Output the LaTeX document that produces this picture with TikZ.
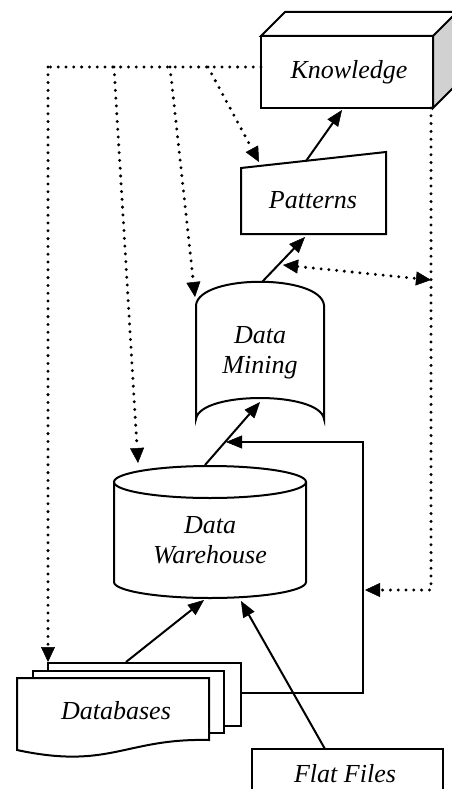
\documentclass[tikz,border=0pt]{standalone}
\usepackage{fontspec}
\setmainfont{Liberation Serif}
\usetikzlibrary{arrows.meta}

\tikzset{
  shapeline/.style={line width=2pt, line join=miter},
  flow/.style={line width=2pt, -{Triangle[length=16pt,width=13pt,line width=0.5pt]}},
  dots/.style={line width=3.3pt, line cap=round, dash pattern=on 0pt off 7.8pt},
  dotflow/.style={dots, -{Triangle[length=15pt,width=14pt,line width=0.5pt]}},
  dotboth/.style={dots, {Triangle[length=15pt,width=14pt,line width=0.5pt]}-{Triangle[length=15pt,width=14pt,line width=0.5pt]}},
  label/.style={font=\fontsize{26}{30}\selectfont\itshape, anchor=base, inner sep=0pt, align=center},
}

\begin{document}
\begin{tikzpicture}[x=1pt, y=-1pt]
\useasboundingbox (0,0) rectangle (452,789);
\fill[white] (0,0) rectangle (452,789);
\clip (0,0) rectangle (452,789);

% ---- Knowledge: 3-D box ----
\draw[shapeline, fill=white] (261,36) -- (285,12) -- (481,12) -- (457,36) -- cycle;
\draw[shapeline, fill=black!18] (433,36) -- (457,12) -- (457,84) -- (433,108) -- cycle;
\draw[shapeline, fill=white] (261,36) rectangle (433,108);
\node[label] (knowledge) at (349,79) {Knowledge};

% ---- Patterns: manual input shape ----
\draw[shapeline, fill=white] (241,168) -- (386,152) -- (386,234) -- (241,234) -- cycle;
\node[label] (patterns) at (313,208) {Patterns};

% ---- Data Mining: punched tape ----
\draw[shapeline, fill=white] (196,305) .. controls (200,274) and (320,274) .. (324,305)
  -- (324,419) .. controls (320,391) and (200,391) .. (196,419) -- cycle;
\node[label] (mining) at (260,373) {Data\\Mining};

% ---- Data Warehouse: cylinder ----
\draw[shapeline, fill=white] (114,482) -- (114,582)
  .. controls (114,590.8) and (157,598) .. (210,598)
  .. controls (263,598) and (306,590.8) .. (306,582) -- (306,482);
\draw[shapeline, fill=white] (210,482) ellipse [x radius=96pt, y radius=16pt];
\node[label] (warehouse) at (210,563) {Data\\Warehouse};

% ---- Databases: stacked documents ----
\draw[shapeline, fill=white] (48,663) rectangle (241,726);
\draw[shapeline, fill=white] (33,671) rectangle (224,733);
\draw[shapeline, fill=white] (17,678) -- (209,678) -- (209,740)
  .. controls (125,738) and (110,770) .. (17,750) -- cycle;
\node[label] (databases) at (116,719) {Databases};

% ---- Flat Files ----
\draw[shapeline, fill=white] (252,749) rectangle (443,800);
\node[label] (flatfiles) at (345,782) {Flat Files};

% ---- connection points ----
\coordinate (kTop) at (261,67);
\coordinate (kIn) at (342,110);
\coordinate (pOut) at (306,161);
\coordinate (pIn) at (305,237);
\coordinate (pCorner) at (259,162);
\coordinate (mOut) at (262,282);
\coordinate (mIn) at (260,402);
\coordinate (mCorner) at (195,297);
\coordinate (wOut) at (205,465);
\coordinate (wTop) at (138,463);
\coordinate (wInA) at (204,600);
\coordinate (wInB) at (241,601);
\coordinate (dbOut) at (126,662);
\coordinate (dbTop) at (48,662);
\coordinate (dbSide) at (241,693);
\coordinate (fOut) at (325,749);
\coordinate (loopHit) at (226,442);
\coordinate (busA) at (48,67);
\coordinate (busB) at (114,67);
\coordinate (busC) at (170,67);
\coordinate (busD) at (208,67);
\coordinate (railTop) at (431,108);
\coordinate (railMid) at (431,280);
\coordinate (railLow) at (431,590);
\coordinate (loopHitR) at (365,590);
\coordinate (minePoint) at (283,265);

% ---- solid flow ----
\draw[flow] (dbOut) -- (wInA);
\draw[flow] (fOut) -- (wInB);
\draw[flow] (wOut) -- (mIn);
\draw[flow] (mOut) -- (pIn);
\draw[flow] (pOut) -- (kIn);
\draw[flow] (dbSide) -- (363,693) -- (363,442) -- (loopHit);

% ---- dotted feedback ----
\draw[dots] (kTop) -- (busA);
\draw[dotflow] (busA) -- (dbTop);
\draw[dotflow] (busB) -- (wTop);
\draw[dotflow] (busC) -- (mCorner);
\draw[dotflow] (busD) -- (pCorner);
\draw[dotflow] (railTop) -- (railLow) -- (loopHitR);
\draw[dotboth] (minePoint) -- (railMid);
\end{tikzpicture}
\end{document}
